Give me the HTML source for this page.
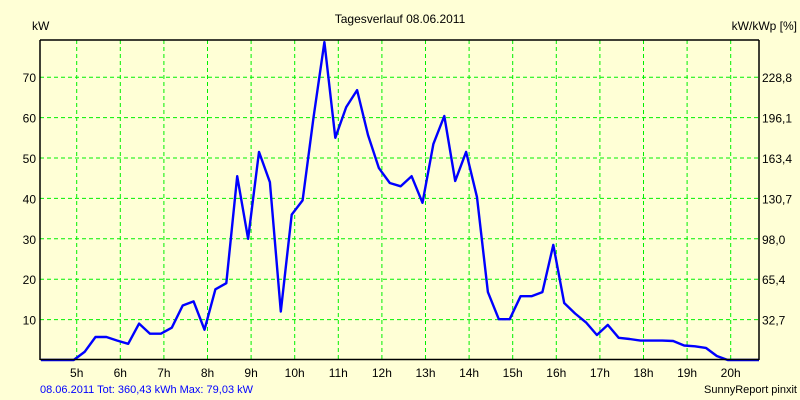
<!DOCTYPE html>
<html><head><meta charset="utf-8"><style>
html,body{margin:0;padding:0;background:#FFFFD6;}
svg{display:block;font-family:"Liberation Sans",sans-serif;}
</style></head><body>
<svg id="chart" width="800" height="400">
<rect x="0" y="0" width="800" height="400" fill="#FFFFD6"/>
<text x="400" y="23" font-size="12" text-anchor="middle">Tagesverlauf 08.06.2011</text>
<text x="32" y="30" font-size="12">kW</text>
<text x="797" y="30" font-size="12" text-anchor="end">kW/kWp [%]</text>
<g id="grid"></g>
<g id="ticks"></g>
<polyline id="series" fill="none" stroke="#0000FF" stroke-width="2.4" stroke-linejoin="round"/>
<line x1="40" y1="40" x2="759" y2="40" stroke="#000" stroke-width="1.5"/>
<line x1="40" y1="40" x2="40" y2="360" stroke="#000" stroke-width="1.5"/>
<line x1="759" y1="40" x2="759" y2="360" stroke="#000" stroke-width="1.5"/>
<line x1="40" y1="359.5" x2="759" y2="359.5" stroke="#000" stroke-width="1.5"/>
<text x="40" y="393" font-size="11" fill="#0000FF">08.06.2011 Tot: 360,43 kWh Max: 79,03 kW</text>
<text x="797" y="393" font-size="11" text-anchor="end">SunnyReport pinxit</text>
</svg>
<script>
const hourTicks = [5,6,7,8,9,10,11,12,13,14,15,16,17,18,19,20];
const leftTicks = [10,20,30,40,50,60,70];
const rightTickLabels = ["32,7","65,4","98,0","130,7","163,4","196,1","228,8"];
const startHour = 4.25;
const stepHours = 0.25;
const powerValues = [0,0,0,
 0,2,5.7,5.7, 4.8,4,9,6.5, 6.5,8,13.5,14.5,
 7.5,17.5,19,45.5, 30,51.5,44,12, 36,39.5,60,78.7,
 55,62.6,66.8,55.7, 47.5,43.8,43,45.5, 38.9,53.5,60.4,44.3,
 51.5,40.3,16.8,10.1, 10.1,15.8,15.8,16.8, 28.5,14.1,11.5,9.3,
 6.2,8.7,5.5,5.2, 4.8,4.8,4.8,4.7, 3.6,3.4,3.0,1.0,
 0,0,0,0];
const NS="http://www.w3.org/2000/svg";
function xs(h){return 76.7+(h-5)*43.6;}
function ys(v){return 360-v*4.04;}
const grid=document.getElementById('grid'), ticks=document.getElementById('ticks');
hourTicks.forEach(h=>{
  const l=document.createElementNS(NS,'line');
  l.setAttribute('x1',xs(h));l.setAttribute('x2',xs(h));l.setAttribute('y1',40);l.setAttribute('y2',359);
  l.setAttribute('stroke','#00F000');l.setAttribute('stroke-dasharray','4,3');
  
  
  grid.appendChild(l);
  const t=document.createElementNS(NS,'text');
  t.setAttribute('x',xs(h));t.setAttribute('y',377);t.setAttribute('font-size','12');t.setAttribute('text-anchor','middle');
  t.textContent=h+'h';
  
  
  ticks.appendChild(t);
});
leftTicks.forEach((v,i)=>{
  const l=document.createElementNS(NS,'line');
  l.setAttribute('x1',40);l.setAttribute('x2',759);l.setAttribute('y1',ys(v));l.setAttribute('y2',ys(v));
  l.setAttribute('stroke','#00F000');l.setAttribute('stroke-dasharray','4,3');
  
  
  grid.appendChild(l);
  const t=document.createElementNS(NS,'text');
  t.setAttribute('x',36);t.setAttribute('y',ys(v)+5);t.setAttribute('font-size','12');t.setAttribute('text-anchor','end');
  t.textContent=v;
  
  
  ticks.appendChild(t);
  const r=document.createElementNS(NS,'text');
  r.setAttribute('x',762);r.setAttribute('y',ys(v)+5);r.setAttribute('font-size','12');
  r.textContent=rightTickLabels[i];
  
  
  ticks.appendChild(r);
});
const pts=powerValues.map((v,i)=>{
  let x=xs(startHour+i*stepHours)-3; x=Math.max(40,Math.min(759,x));
  return x.toFixed(1)+','+ys(v).toFixed(1);
});
document.getElementById('series').setAttribute('points',pts.join(' '));
</script>
</body></html>
